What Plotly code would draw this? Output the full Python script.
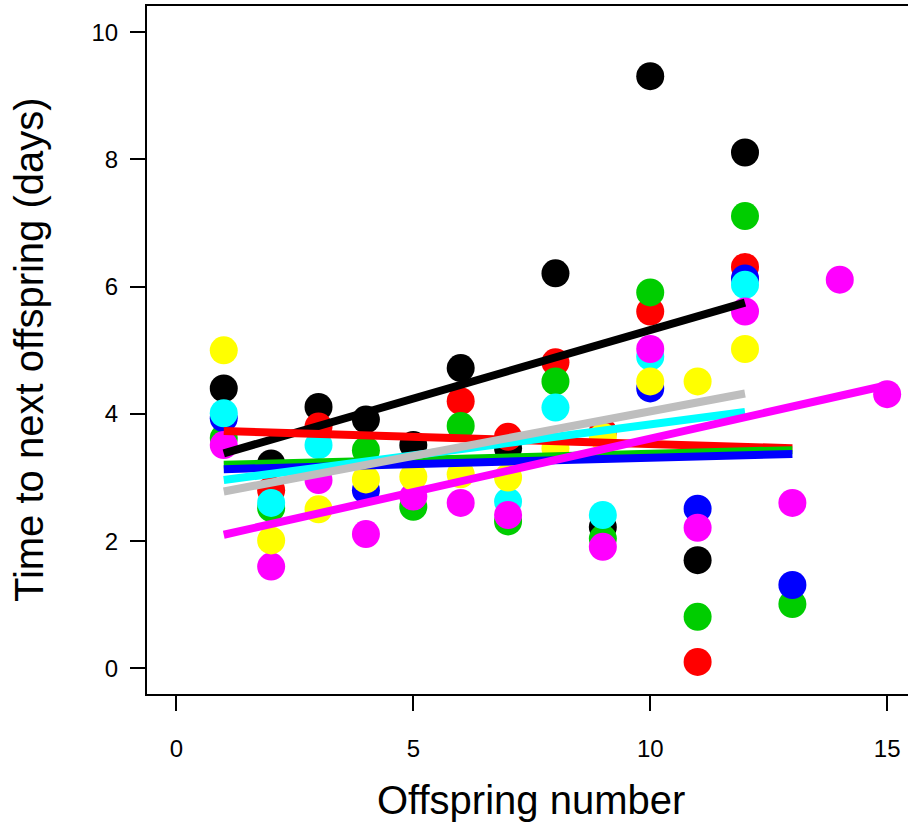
import plotly.graph_objects as go

offspring = [1, 2, 3, 4, 5, 6, 7, 8, 9, 10, 11, 12, 13, 14, 15]

black_y   = [4.40, 3.22, 4.11, 3.91, 3.51, 4.72, 3.46, 6.21, 2.22, 9.31, 1.70, 8.11, None, None, None]
red_y     = [None, 2.80, 3.80, None, None, 4.20, 3.64, 4.81, 3.72, 5.61, 0.10, 6.31, None, None, None]
green_y   = [3.62, 2.52, None, 3.43, 2.54, 3.81, 2.31, 4.51, 2.04, 5.91, 0.81, 7.11, 1.01, None, None]
blue_y    = [3.93, None, None, 2.80, None, None, None, None, None, 4.40, 2.51, 6.13, 1.31, None, None]
cyan_y    = [4.01, 2.60, 3.51, None, None, None, 2.62, 4.10, 2.41, 4.90, None, 6.03, None, None, None]
magenta_y = [3.51, 1.60, 2.96, 2.11, 2.70, 2.60, 2.41, None, 1.91, 5.02, 2.21, 5.61, 2.60, 6.11, 4.31]
yellow_y  = [5.00, 2.01, 2.50, 2.97, 3.01, 3.05, 3.00, 3.46, 3.64, 4.51, 4.51, 5.02, None, None, None]

point_series = [
    ("#000000", black_y),
    ("#FF0000", red_y),
    ("#00CD00", green_y),
    ("#0000FF", blue_y),
    ("#00FFFF", cyan_y),
    ("#FF00FF", magenta_y),
    ("#FFFF00", yellow_y),
]

# fitted trend lines: colour, x start, x end, y start, y end
fit_colors  = ["#000000", "#FF0000", "#00CD00", "#0000FF", "#00FFFF", "#BEBEBE", "#FF00FF"]
fit_x_start = [1, 1, 1, 1, 1, 1, 1]
fit_x_end   = [12, 13, 13, 13, 12, 12, 15]
fit_y_start = [3.38, 3.73, 3.20, 3.13, 2.96, 2.78, 2.10]
fit_y_end   = [5.75, 3.46, 3.43, 3.37, 4.03, 4.32, 4.45]

x_ticks = [0, 5, 10, 15]
y_ticks = [0, 2, 4, 6, 8, 10]

FONT = "Liberation Sans, Arial, sans-serif"

fig = go.Figure()
for color, ys in point_series:
    fig.add_trace(go.Scatter(
        x=offspring, y=ys, mode="markers",
        marker=dict(color=color, size=28, line=dict(width=0)),
        showlegend=False, hoverinfo="skip"))

for c, xs, xe, ys_, ye in zip(fit_colors, fit_x_start, fit_x_end, fit_y_start, fit_y_end):
    fig.add_trace(go.Scatter(
        x=[xs, xe], y=[ys_, ye], mode="lines",
        line=dict(color=c, width=8),
        showlegend=False, hoverinfo="skip"))

fig.update_layout(
    width=908, height=826,
    margin=dict(l=147, r=0, t=6, b=132),
    paper_bgcolor="white", plot_bgcolor="white",
    font=dict(family=FONT, color="black"),
    xaxis=dict(
        range=[-0.62, 15.44], tickvals=x_ticks, ticktext=[str(v) for v in x_ticks],
        showgrid=False, zeroline=False, showline=True, linecolor="black", linewidth=2,
        mirror=True, ticks="outside", ticklen=15, tickwidth=2, tickcolor="black",
        tickfont=dict(size=24, family=FONT), ticklabelstandoff=17),
    yaxis=dict(
        range=[-0.404, 10.413], tickvals=y_ticks, ticktext=[str(v) for v in y_ticks],
        showgrid=False, zeroline=False, showline=True, linecolor="black", linewidth=2,
        mirror=False, ticks="outside", ticklen=15, tickwidth=2, tickcolor="black",
        tickfont=dict(size=24, family=FONT), ticklabelstandoff=7),
    annotations=[
        dict(text="Offspring number", xref="paper", yref="paper",
             x=0.5046, y=-0.154, xanchor="center", yanchor="middle",
             showarrow=False, font=dict(size=40, family=FONT, color="black")),
        dict(text="Time to next offspring (days)", xref="paper", yref="paper",
             x=-0.155, y=0.5, xanchor="center", yanchor="middle", textangle=-90,
             showarrow=False, font=dict(size=40, family=FONT, color="black")),
    ],
)

fig.write_html("out.html")
